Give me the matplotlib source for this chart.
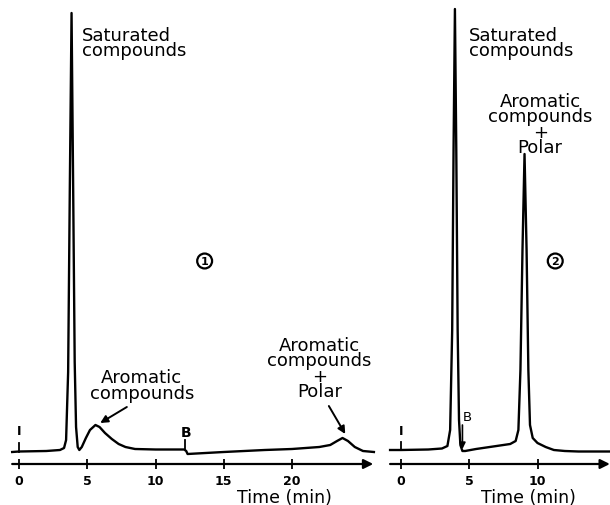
import matplotlib
matplotlib.use("Agg")
import matplotlib.pyplot as plt

# ---------------- data ----------------
# Chromatogram 1 : time (min) and detector signal (arbitrary units above baseline)
t1 = [-0.5, 0.0, 2.0, 3.0, 3.3, 3.45, 3.6, 3.72, 3.85, 3.97, 4.08, 4.18, 4.3, 4.42,
      4.6, 4.9, 5.2, 5.6, 5.9, 6.3, 6.8, 7.3, 7.8, 8.5, 10.0, 12.1, 12.25, 12.35,
      13.0, 15.0, 18.0, 20.0, 22.0, 22.8, 23.3, 23.7, 24.1, 24.6, 25.2, 26.0]
s1 = [0, 0.5, 1, 2, 4, 12, 80, 260, 439, 260, 90, 25, 5, 2,
      5, 14, 22, 27, 25, 19, 13, 8, 5, 3, 2.5, 2.5, 1, -2,
      -1.5, 0, 2, 3, 5, 7, 11, 14, 11, 5, 1, 0]

# Chromatogram 2
t2 = [-0.8, 0.0, 2.0, 3.0, 3.4, 3.6, 3.75, 3.85, 3.95, 4.05, 4.15, 4.25, 4.35, 4.5,
      4.7, 5.5, 7.0, 8.0, 8.4, 8.6, 8.75, 8.9, 9.05, 9.2, 9.33, 9.45, 9.65, 10.0,
      10.6, 11.2, 12.0, 13.0, 15.4]
s2 = [0, 0, 0.5, 1.5, 4, 20, 120, 300, 441, 300, 120, 30, 5, -1,
      -1, 1, 4, 6, 9, 20, 80, 200, 296, 200, 80, 25, 12, 7,
      3, 0, -1, -1.5, -1.5]

ticks1 = [0, 5, 10, 15, 20]
ticks2 = [0, 5, 10]

W, H = 610, 506
fig = plt.figure(figsize=(W / 100, H / 100), dpi=100)

AX_Y = 465  # pixel row of the time axes


def make_axes(px0, px1, t_zero_px, base_px):
    scale = 13.65
    ax = fig.add_axes([px0 / W, (H - AX_Y) / H, (px1 - px0) / W, AX_Y / H])
    ax.set_xlim((px0 - t_zero_px) / scale, (px1 - t_zero_px) / scale)
    ax.set_ylim(-(AX_Y - base_px), base_px)
    for sp in ax.spines.values():
        sp.set_visible(False)
    ax.set_yticks([])
    ax.patch.set_alpha(0)
    return ax


ax1 = make_axes(0, 382, 19, 453)
ax2 = make_axes(383, 610, 401, 451)

lw = 1.7
ax1.plot(t1, s1, color="black", lw=lw, solid_joinstyle="round")
ax2.plot(t2, s2, color="black", lw=lw, solid_joinstyle="round")

for ax, tk, x0, x1 in [(ax1, ticks1, -0.5, 25.95), (ax2, ticks2, -0.8, 15.3)]:
    ax.set_xticks(tk)
    ax.set_xticklabels([str(v) for v in tk], fontsize=9, fontweight="bold")
    ax.tick_params(axis="x", direction="inout", length=7, width=1.3, pad=4)
    ax.annotate("", xy=(x1, 0), xytext=(x0, 0),
                xycoords=ax.get_xaxis_transform(), textcoords=ax.get_xaxis_transform(),
                arrowprops=dict(arrowstyle="-|>", color="black", lw=1.6,
                                mutation_scale=14, shrinkA=0, shrinkB=0),
                annotation_clip=False)

fs = 13
ls = 0.8
# ---- panel 1 annotations ----
ax1.text(4.6, 426, "Saturated\ncompounds", fontsize=fs, ha="left", va="top", linespacing=ls)
ax1.text(9.0, 67, "Aromatic\ncompounds", fontsize=fs, ha="center", va="center", linespacing=ls)
ax1.annotate("", xy=(5.95, 29), xytext=(7.9, 45),
             arrowprops=dict(arrowstyle="-|>", color="black", lw=1.4, mutation_scale=11,
                             shrinkA=0, shrinkB=0))
ax1.text(22.0, 84, "Aromatic\ncompounds\n+\nPolar", fontsize=fs, ha="center", va="center",
         linespacing=ls)
ax1.annotate("", xy=(23.9, 18), xytext=(22.7, 46),
             arrowprops=dict(arrowstyle="-|>", color="black", lw=1.4, mutation_scale=11,
                             shrinkA=0, shrinkB=0))
ax1.text(13.6, 191, "1", fontsize=8, fontweight="bold", ha="center", va="center",
         bbox=dict(boxstyle="circle,pad=0.22", fc="white", ec="black", lw=1.6))
ax1.text(0.0, 21, "I", fontsize=9, fontweight="bold", ha="center", va="center")
ax1.plot([0.0, 0.0], [0.5, 9], color="black", lw=1.3)
ax1.text(12.25, 20, "B", fontsize=10, fontweight="bold", ha="center", va="center")
ax1.plot([12.17, 12.17], [3, 12], color="black", lw=1.3)

# ---- panel 2 annotations ----
ax2.text(4.95, 424, "Saturated\ncompounds", fontsize=fs, ha="left", va="top", linespacing=ls)
ax2.text(10.2, 326, "Aromatic\ncompounds\n+\nPolar", fontsize=fs, ha="center", va="center",
         linespacing=ls)
ax2.text(11.3, 189, "2", fontsize=8, fontweight="bold", ha="center", va="center",
         bbox=dict(boxstyle="circle,pad=0.22", fc="white", ec="black", lw=1.6))
ax2.text(0.0, 19, "I", fontsize=9, fontweight="bold", ha="center", va="center")
ax2.plot([0.0, 0.0], [0, 8], color="black", lw=1.3)
ax2.text(4.85, 33, "B", fontsize=9.5, ha="center", va="center")
ax2.annotate("", xy=(4.5, 1), xytext=(4.5, 25),
             arrowprops=dict(arrowstyle="-|>", color="black", lw=1.2, mutation_scale=9,
                             shrinkA=0, shrinkB=0))

# axis titles
fig.text(284 / W, 1 - 498.5 / H, "Time (min)", fontsize=12.5, ha="center", va="center")
fig.text(528 / W, 1 - 498.5 / H, "Time (min)", fontsize=12.5, ha="center", va="center")

fig.savefig("out.png", dpi=100, facecolor="white")
